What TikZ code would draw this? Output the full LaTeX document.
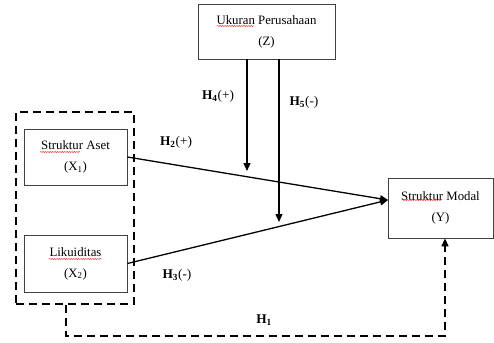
\documentclass[tikz,border=0pt]{standalone}
\usepackage{fontspec}
\setmainfont{Liberation Serif}
\usetikzlibrary{arrows.meta,decorations.pathmorphing}
\begin{document}
\begin{tikzpicture}[x=1pt,y=-1pt,
  varbox/.style={draw=black!75,line width=0.8pt,align=center,inner sep=0pt,
    font=\fontsize{12.8}{21}\selectfont},
  grpbox/.style={draw,line width=1.4pt,dash pattern=on 8pt off 5pt,inner sep=0pt},
  rel/.style={line width=1.3pt,-{Triangle[length=8pt,width=7pt]}},
  drel/.style={line width=1.4pt,dash pattern=on 8pt off 5pt,-{Triangle[length=8pt,width=7pt]}},
  hlab/.style={font=\fontsize{13.3}{15}\selectfont,inner sep=1pt},
  squig/.style={draw=red!80,line width=0.45pt,decorate,decoration={snake,amplitude=0.6pt,segment length=2.4pt}}]
\useasboundingbox (0,0) rectangle (494,342);
\node[varbox,minimum width=137pt,minimum height=55pt] (Z) at (266.5,31.5) {Ukuran Perusahaan\\(Z)};
\node[varbox,minimum width=103pt,minimum height=56pt] (X1) at (75.5,157) {Struktur Aset\\(X\textsubscript{1})};
\node[varbox,minimum width=103pt,minimum height=57pt] (X2) at (75.5,263.5) {Likuiditas\\(X\textsubscript{2})};
\node[varbox,minimum width=105pt,minimum height=60pt] (Y) at (440.5,208) {Struktur Modal\\(Y)};
\node[grpbox,minimum width=118pt,minimum height=192pt] (grp) at (75,208) {};
\coordinate (yin) at (388,200);
\coordinate (h4end) at (247,171);
\coordinate (h5end) at (279,222);
\coordinate (c1) at (66,336);
\coordinate (c2) at (445,336);
\draw[rel] (X1.east) -- (yin);
\draw[rel] (X2.east) -- (yin);
\draw[rel] (Z.south -| h4end) -- (h4end);
\draw[rel] (Z.south -| h5end) -- (h5end);
\draw[drel] (grp.south -| c1) -- (c1) -- (c2) -- (Y.south -| c2);
\node[hlab] (l4) at (218,96) {\textbf{H\textsubscript{4}}(+)};
\node[hlab] (l5) at (304,102) {\textbf{H\textsubscript{5}}(-)};
\node[hlab] (l2) at (176,142) {\textbf{H\textsubscript{2}}(+)};
\node[hlab] (l3) at (177,275) {\textbf{H\textsubscript{3}}(-)};
\node[hlab] (l1) at (264,320) {\textbf{H\textsubscript{1}}};
% spell-check underlines
\path[squig] (217,26) -- (254,26);
\path[squig] (40,152) -- (80,152);
\path[squig] (49,259) -- (102,259);
\path[squig] (402,200) -- (442,200);
\end{tikzpicture}
\end{document}
